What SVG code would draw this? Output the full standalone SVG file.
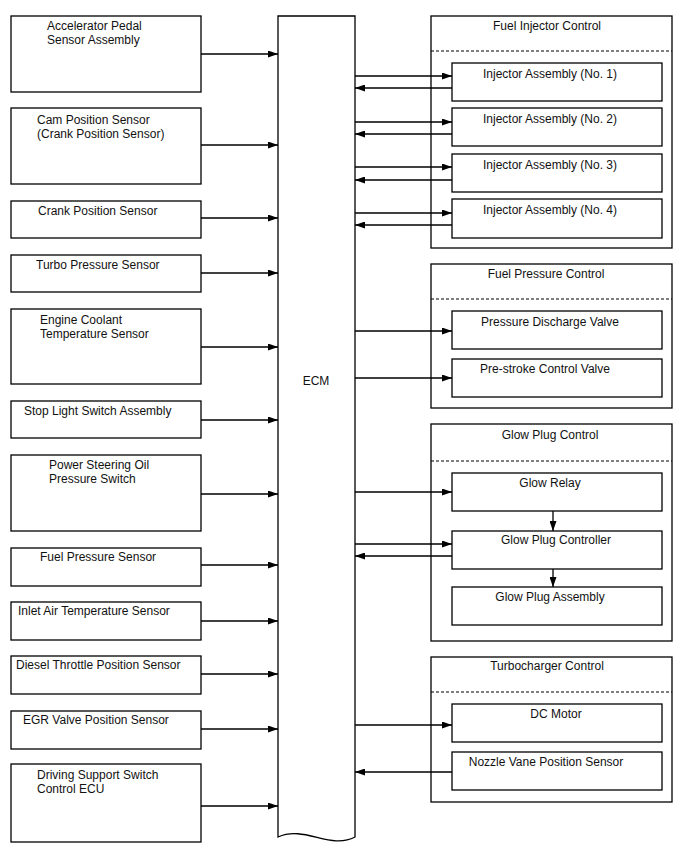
<svg xmlns="http://www.w3.org/2000/svg" width="688" height="852" viewBox="0 0 688 852">
<defs>
<marker id="ah" markerUnits="userSpaceOnUse" markerWidth="10" markerHeight="7" refX="10" refY="3.5" orient="auto"><path d="M0,0 L10,3.5 L0,7 z" fill="#000"/></marker>
<style>
rect,.shape{fill:#fff;stroke:#000;stroke-width:1.3}
text{font-family:"Liberation Sans",Arial,sans-serif;font-size:12px;fill:#111}
.c{text-anchor:middle}
.dash{stroke:#000;stroke-width:1.2;stroke-dasharray:3,2;fill:none}
#connectors line{stroke:#000;stroke-width:1.3;marker-end:url(#ah)}
</style>
</defs>
<rect x="0" y="0" width="688" height="852" style="fill:#fff;stroke:none"/>

<g id="ecm">
<path class="shape" d="M278,16 L355,16 L355,837 C330,850 305,825 278,837 Z"/>
<text class="c" x="316" y="385">ECM</text>
</g>

<g id="s1"><rect x="11" y="16" width="190" height="76"/><text x="47" y="30">Accelerator Pedal</text><text x="47" y="44">Sensor Assembly</text></g>
<g id="s2"><rect x="11" y="108" width="190" height="76"/><text x="37" y="124">Cam Position Sensor</text><text x="37" y="138">(Crank Position Sensor)</text></g>
<g id="s3"><rect x="11" y="201" width="190" height="37"/><text x="38" y="215">Crank Position Sensor</text></g>
<g id="s4"><rect x="11" y="255" width="190" height="37"/><text x="36" y="269">Turbo Pressure Sensor</text></g>
<g id="s5"><rect x="11" y="309" width="190" height="75"/><text x="40" y="324">Engine Coolant</text><text x="40" y="338">Temperature Sensor</text></g>
<g id="s6"><rect x="11" y="401" width="190" height="37"/><text x="24" y="415">Stop Light Switch Assembly</text></g>
<g id="s7"><rect x="11" y="455" width="190" height="76"/><text x="49" y="469">Power Steering Oil</text><text x="49" y="483">Pressure Switch</text></g>
<g id="s8"><rect x="11" y="548" width="190" height="38"/><text x="40" y="561">Fuel Pressure Sensor</text></g>
<g id="s9"><rect x="11" y="602" width="190" height="38"/><text x="18" y="615">Inlet Air Temperature Sensor</text></g>
<g id="s10"><rect x="11" y="656" width="190" height="38"/><text x="16" y="669">Diesel Throttle Position Sensor</text></g>
<g id="s11"><rect x="11" y="711" width="190" height="38"/><text x="23" y="724">EGR Valve Position Sensor</text></g>
<g id="s12"><rect x="11" y="764" width="190" height="78"/><text x="37" y="779">Driving Support Switch</text><text x="37" y="793">Control ECU</text></g>

<g id="fuel-injector-control">
<rect x="431" y="16" width="241" height="232"/>
<line class="dash" x1="431" y1="51" x2="672" y2="51"/>
<text class="c" x="547" y="30">Fuel Injector Control</text>
<g id="inj1"><rect x="452" y="63" width="210" height="38"/><text class="c" x="550" y="78">Injector Assembly (No. 1)</text></g>
<g id="inj2"><rect x="452" y="108" width="210" height="38"/><text class="c" x="550" y="123">Injector Assembly (No. 2)</text></g>
<g id="inj3"><rect x="452" y="154" width="210" height="38"/><text class="c" x="550" y="169">Injector Assembly (No. 3)</text></g>
<g id="inj4"><rect x="452" y="199" width="210" height="39"/><text class="c" x="550" y="214">Injector Assembly (No. 4)</text></g>
</g>

<g id="fuel-pressure-control">
<rect x="431" y="264" width="241" height="144"/>
<line class="dash" x1="431" y1="299" x2="672" y2="299"/>
<text class="c" x="546" y="278">Fuel Pressure Control</text>
<g id="pdv"><rect x="452" y="311" width="210" height="38"/><text class="c" x="550" y="326">Pressure Discharge Valve</text></g>
<g id="pcv"><rect x="452" y="359" width="210" height="38"/><text class="c" x="545" y="373">Pre-stroke Control Valve</text></g>
</g>

<g id="glow-plug-control">
<rect x="431" y="424" width="241" height="217"/>
<line class="dash" x1="431" y1="461" x2="672" y2="461"/>
<text class="c" x="550" y="439">Glow Plug Control</text>
<g id="relay"><rect x="452" y="473" width="210" height="38"/><text class="c" x="550" y="487">Glow Relay</text></g>
<g id="gpc"><rect x="452" y="531" width="210" height="38"/><text class="c" x="556" y="544">Glow Plug Controller</text></g>
<g id="gpa"><rect x="452" y="587" width="210" height="38"/><text class="c" x="550" y="601">Glow Plug Assembly</text></g>
</g>

<g id="turbocharger-control">
<rect x="431" y="657" width="241" height="145"/>
<line class="dash" x1="431" y1="692" x2="672" y2="692"/>
<text class="c" x="547" y="670">Turbocharger Control</text>
<g id="dcm"><rect x="452" y="704" width="210" height="38"/><text class="c" x="556" y="718">DC Motor</text></g>
<g id="nvps"><rect x="452" y="752" width="210" height="38"/><text class="c" x="546" y="766">Nozzle Vane Position Sensor</text></g>
</g>

<g id="connectors">
<line x1="201" y1="54" x2="278" y2="54"/>
<line x1="201" y1="145" x2="278" y2="145"/>
<line x1="201" y1="218" x2="278" y2="218"/>
<line x1="201" y1="273" x2="278" y2="273"/>
<line x1="201" y1="347" x2="278" y2="347"/>
<line x1="201" y1="420" x2="278" y2="420"/>
<line x1="201" y1="494" x2="278" y2="494"/>
<line x1="201" y1="565" x2="278" y2="565"/>
<line x1="201" y1="621" x2="278" y2="621"/>
<line x1="201" y1="674" x2="278" y2="674"/>
<line x1="201" y1="729" x2="278" y2="729"/>
<line x1="201" y1="806" x2="278" y2="806"/>

<line x1="355" y1="76" x2="452" y2="76"/>
<line x1="452" y1="88" x2="355" y2="88"/>
<line x1="355" y1="122" x2="452" y2="122"/>
<line x1="452" y1="134" x2="355" y2="134"/>
<line x1="355" y1="167" x2="452" y2="167"/>
<line x1="452" y1="180" x2="355" y2="180"/>
<line x1="355" y1="213" x2="452" y2="213"/>
<line x1="452" y1="225" x2="355" y2="225"/>

<line x1="355" y1="331" x2="452" y2="331"/>
<line x1="355" y1="378" x2="452" y2="378"/>

<line x1="355" y1="492" x2="452" y2="492"/>
<line x1="553" y1="511" x2="553" y2="531"/>
<line x1="355" y1="544" x2="452" y2="544"/>
<line x1="452" y1="556" x2="355" y2="556"/>
<line x1="553" y1="569" x2="553" y2="587"/>

<line x1="355" y1="725" x2="452" y2="725"/>
<line x1="452" y1="772" x2="355" y2="772"/>
</g>
</svg>
